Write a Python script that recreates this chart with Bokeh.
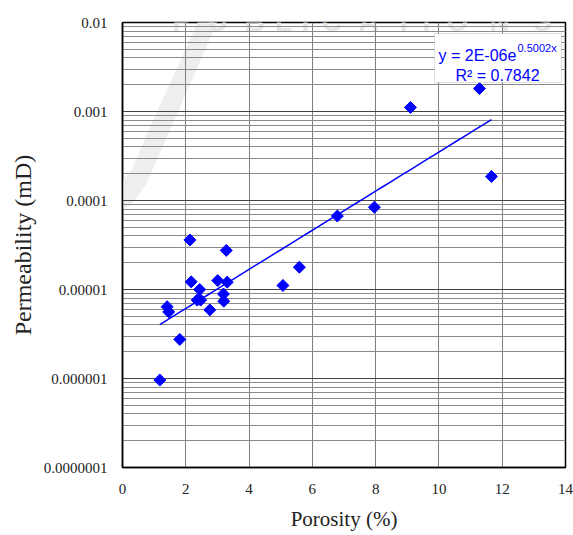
import numpy as np
from bokeh.plotting import figure
from bokeh.models import (FixedTicker, CustomJSTickFormatter, BoxAnnotation, Label,
                          Range1d, PolyAnnotation)
from bokeh.embed import file_html
from bokeh.resources import INLINE

# ---------------- data ----------------
porosity = [1.18, 1.41, 1.46, 1.81, 2.13, 2.17, 2.44, 2.36, 2.47, 2.76, 3.01,
            3.31, 3.28, 3.19, 3.20, 5.07, 5.59, 6.79, 7.96, 9.10, 11.28, 11.66]
permeability = [9.6e-7, 6.4e-6, 5.6e-6, 2.75e-6, 3.6e-5, 1.22e-5, 1.0e-5, 7.6e-6,
                7.6e-6, 5.9e-6, 1.26e-5, 1.21e-5, 2.75e-5, 8.9e-6, 7.4e-6, 1.11e-5,
                1.78e-5, 6.7e-5, 8.4e-5, 1.11e-3, 1.81e-3, 1.86e-4]

x_ticks = [0, 2, 4, 6, 8, 10, 12, 14]
y_ticks = [1e-7, 1e-6, 1e-5, 1e-4, 1e-3, 1e-2]
y_tick_labels = ["0.0000001", "0.000001", "0.00001", "0.0001", "0.001", "0.01"]

x_title = "Porosity (%)"
y_title = "Permeability (mD)"
equation_main = "y = 2E-06e"
equation_exp = "0.5002x"
r2_text = "R\u00b2 = 0.7842"
watermark_letters = list("OLOGYPUBLICATIONS")

# ---------------- exponential trendline (least squares on ln y) ----------------
px = np.array(porosity)
py = np.array(permeability)
b, ln_a = np.polyfit(px, np.log(py), 1)
fit_x = np.linspace(px.min(), px.max(), 50)
fit_y = np.exp(ln_a) * np.exp(b * fit_x)

# ---------------- layout helpers (screen px -> data) ----------------
W, H = 573, 535
L, R, T, B = 122, 8, 22, 68
FW, FH = W - L - R, H - T - B
XMIN, XMAX = 0, 14
LYMIN, LYMAX = -7, -2


def sx(p):
    return XMIN + (p - L) / FW * (XMAX - XMIN)


def sy(p):
    return 10 ** (LYMAX - (p - T) / FH * (LYMAX - LYMIN))


p = figure(width=W, height=H, x_range=Range1d(XMIN, XMAX),
           y_range=Range1d(10 ** LYMIN, 10 ** LYMAX), y_axis_type="log",
           output_backend="svg", toolbar_location=None,
           min_border_left=L, min_border_right=R, min_border_top=T,
           min_border_bottom=B)
p.background_fill_color = "white"
p.border_fill_color = "white"
p.outline_line_color = "black"
p.outline_line_width = 1.5

# faint publisher watermark
sw_outer = [(0, 182), (40, 197), (80, 210), (110, 213), (130, 205), (145, 185),
            (165, 140), (200, 60), (226, 0)]
sw_inner = [(207, 0), (180, 60), (148, 130), (132, 168), (118, 186), (100, 193),
            (70, 188), (35, 175), (0, 158)]
poly = sw_outer + sw_inner
p.add_layout(PolyAnnotation(xs=[sx(a) for a, _ in poly], ys=[sy(c) for _, c in poly],
                            fill_color="#eeeeee", fill_alpha=1, line_color=None,
                            level="image"))
wm_centers = [12, 36, 61, 92, 120, 181, 217, 254, 283, 305, 331, 368, 403, 426,
              457, 499, 542]
for ch, cx in zip(watermark_letters, wm_centers):
    p.add_layout(Label(x=sx(cx), y=sy(21), text=ch, text_align="center",
                       text_baseline="alphabetic", text_font="Liberation Sans",
                       text_font_style="bold", text_font_size="28px",
                       text_color="#e6e6e6", level="image"))

# grid
p.xgrid.ticker = FixedTicker(ticks=x_ticks)
p.xgrid.grid_line_color = "#808080"
p.xgrid.grid_line_width = 1
minor = [m * t for t in y_ticks[:-1] for m in range(2, 10)]
p.ygrid.ticker = FixedTicker(ticks=y_ticks, minor_ticks=minor)
p.ygrid.grid_line_color = "#444444"
p.ygrid.grid_line_width = 1
p.ygrid.minor_grid_line_color = "#8a8a8a"
p.ygrid.minor_grid_line_width = 1

# axes
for ax in (p.xaxis, p.yaxis):
    ax.axis_line_color = "black"
    ax.axis_line_width = 1.5
    ax.major_tick_line_color = None
    ax.minor_tick_line_color = None
    ax.major_tick_out = 0
    ax.major_tick_in = 0
    ax.minor_tick_out = 0
    ax.major_label_text_font = "Liberation Serif"
    ax.major_label_text_font_size = "15px"
    ax.major_label_text_color = "#222222"
    ax.axis_label_text_font = "Liberation Serif"
    ax.axis_label_text_font_style = "normal"
    ax.axis_label_text_color = "#222222"

p.xaxis.ticker = FixedTicker(ticks=x_ticks)
p.xaxis.major_label_standoff = 16
p.xaxis.axis_label = x_title
p.xaxis.axis_label_text_font_size = "21px"
p.xaxis.axis_label_standoff = 10

p.yaxis.ticker = FixedTicker(ticks=y_ticks)
p.yaxis.formatter = CustomJSTickFormatter(args=dict(tvals=y_ticks, tlabels=y_tick_labels), code="""
let best = 0, bd = Infinity;
for (let i = 0; i < tvals.length; i++) {
  const d = Math.abs(Math.log10(tick) - Math.log10(tvals[i]));
  if (d < bd) { bd = d; best = i; }
}
return tlabels[best];
""")
p.yaxis.major_label_standoff = 15
p.yaxis.axis_label = y_title
p.yaxis.axis_label_text_font_size = "24px"
p.yaxis.axis_label_standoff = 5

# data
p.line(fit_x, fit_y, line_color="#0000FF", line_width=1.5)
p.scatter(porosity, permeability, marker="square", angle=np.pi / 4, size=8.5,
          fill_color="#0000FF", line_color="#0000FF")

# equation box
p.add_layout(BoxAnnotation(left=sx(434), right=sx(561), top=sy(33), bottom=sy(82),
                           fill_color="white", fill_alpha=1, line_color="#999999",
                           line_width=1))
p.add_layout(Label(x=sx(438), y=sy(55), text=equation_main, text_font="Liberation Sans",
                   text_font_size="16px", text_color="#0000FF", text_baseline="alphabetic"))
p.add_layout(Label(x=sx(517), y=sy(47), text=equation_exp, text_font="Liberation Sans",
                   text_font_size="11px", text_color="#0000FF", text_baseline="alphabetic"))
p.add_layout(Label(x=sx(455), y=sy(75), text=r2_text, text_font="Liberation Sans",
                   text_font_size="16px", text_color="#0000FF", text_baseline="alphabetic"))

open("out.html", "w").write(file_html(p, INLINE))
